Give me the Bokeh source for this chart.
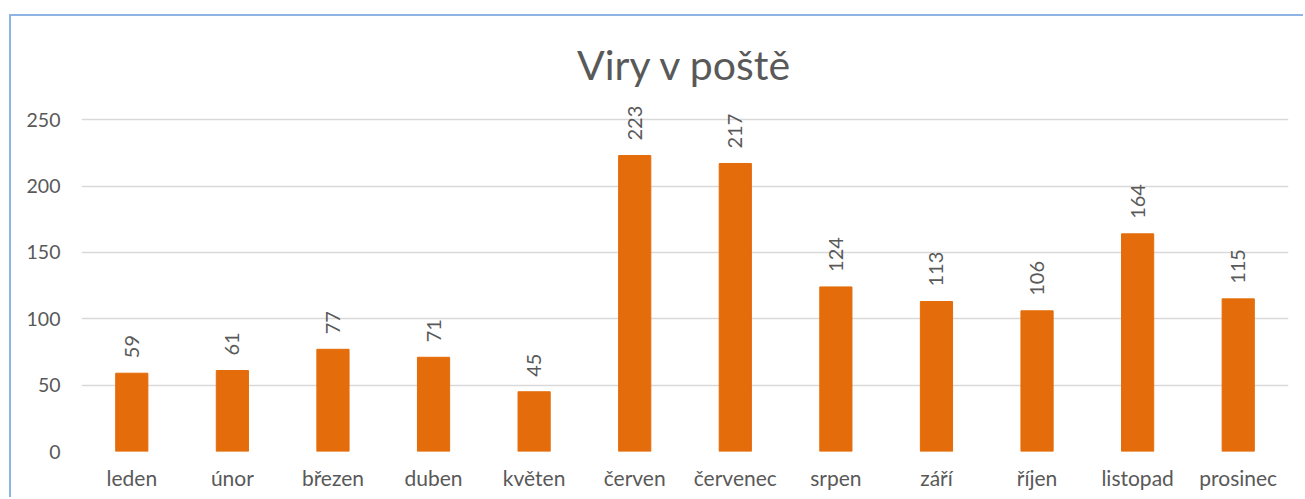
from bokeh.plotting import figure
from bokeh.models import ColumnDataSource, Range1d, FixedTicker
from bokeh.core.properties import value
from bokeh.embed import file_html
from bokeh.resources import INLINE
import math

months = ["leden", "únor", "březen", "duben", "květen", "červen",
          "červenec", "srpen", "září", "říjen", "listopad", "prosinec"]
counts = [59, 61, 77, 71, 45, 223, 217, 124, 113, 106, 164, 115]
y_ticks = [0, 50, 100, 150, 200, 250]
title_text = "Viry v poště"

FONT = "Lato"
TXT = "#595959"
BAR = "#E46C0A"

src = ColumnDataSource(dict(m=months, v=counts, lbl=[str(c) for c in counts]))

p = figure(x_range=months, y_range=Range1d(0, 272), width=1294, height=483,
           output_backend="svg", toolbar_location=None,
           min_border_left=70, min_border_right=17, min_border_top=74,
           min_border_bottom=48)
p.styles = {"border-left": "2px solid #8EB4E3", "border-top": "2px solid #8EB4E3",
            "margin-top": "14px", "margin-left": "9px"}

p.title.text = title_text
p.title.align = "center"
p.title.text_font = FONT
p.title.text_font_size = "41px"
p.title.text_font_style = "normal"
p.title.text_color = TXT
p.title.standoff = 3

p.vbar(x="m", top="v", width=0.32, source=src, color=BAR)
p.text(x="m", y="v", text="lbl", source=src, angle=math.pi / 2,
       text_align="left", text_baseline="middle", y_offset=-15,
       text_font=value(FONT), text_font_size="20px", text_color=TXT)

p.outline_line_color = None
p.xgrid.grid_line_color = None
p.ygrid.grid_line_color = "#D9D9D9"
p.ygrid.grid_line_width = 1.5
p.yaxis.ticker = FixedTicker(ticks=y_ticks)

for ax in (p.xaxis, p.yaxis):
    ax.axis_line_color = None
    ax.major_tick_line_color = None
    ax.minor_tick_line_color = None
    ax.major_label_text_font = FONT
    ax.major_label_text_color = TXT
p.xaxis.major_label_text_font_size = "21px"
p.yaxis.major_label_text_font_size = "19.5px"
p.xaxis.major_label_standoff = 7
p.yaxis.major_label_standoff = 15

open("out.html", "w").write(file_html(p, INLINE))
